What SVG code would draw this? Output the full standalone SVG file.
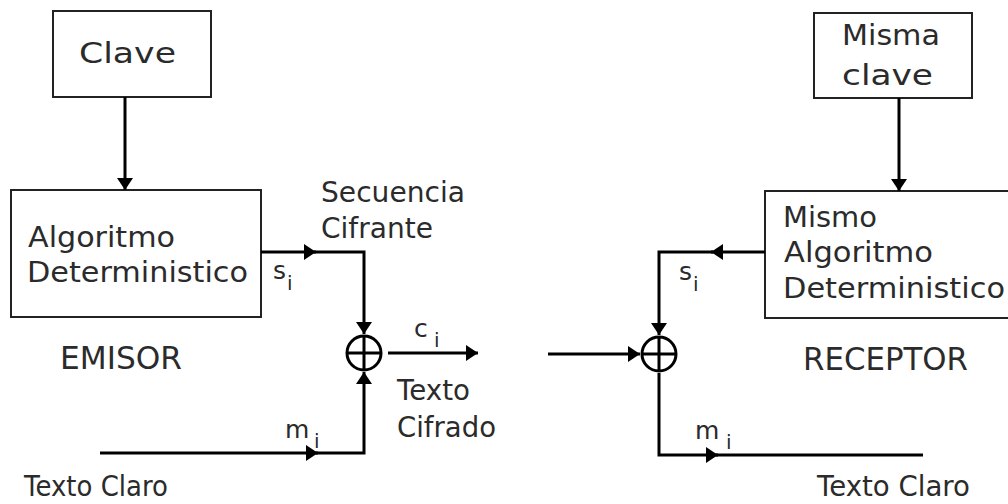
<svg xmlns="http://www.w3.org/2000/svg" width="1008" height="504" viewBox="0 0 1008 504">
<defs>
<style>
.box{fill:#fff;stroke:#222;stroke-width:2}
.t{font-family:"DejaVu Sans","Liberation Sans",sans-serif;fill:#2b2b2b;font-size:29px}
.big{font-size:32px}
.sm{font-size:25px}
.sub{font-size:20px}
.c{fill:none;stroke:#000;stroke-width:3;stroke-linejoin:miter}
.x{fill:#fff;stroke:#000;stroke-width:3}
</style>
<marker id="ah" markerUnits="userSpaceOnUse" markerWidth="12" markerHeight="16" viewBox="0 0 12 16" refX="12" refY="8" orient="auto">
<path d="M0,0 L12,8 L0,16 z" fill="#000"/>
</marker>
</defs>
<rect width="1008" height="504" fill="#fff"/>

<g id="clave">
<rect class="box" x="53" y="11" width="158" height="86"/>
<text class="t" x="79" y="63" textLength="97" lengthAdjust="spacingAndGlyphs">Clave</text>
</g>

<g id="algoritmo">
<rect class="box" x="11" y="190" width="250" height="127"/>
<text class="t" x="28" y="247" textLength="147" lengthAdjust="spacingAndGlyphs">Algoritmo</text>
<text class="t" x="27" y="282" textLength="221" lengthAdjust="spacingAndGlyphs">Deterministico</text>
</g>

<g id="misma-clave">
<rect class="box" x="814" y="13" width="158" height="85"/>
<text class="t" x="842" y="45" textLength="98" lengthAdjust="spacingAndGlyphs">Misma</text>
<text class="t" x="842" y="85" textLength="91" lengthAdjust="spacingAndGlyphs">clave</text>
</g>

<g id="mismo-algoritmo">
<rect class="box" x="765" y="191" width="260" height="127"/>
<text class="t" x="783" y="227" textLength="94" lengthAdjust="spacingAndGlyphs">Mismo</text>
<text class="t" x="784" y="262" textLength="149" lengthAdjust="spacingAndGlyphs">Algoritmo</text>
<text class="t" x="783" y="298" textLength="222" lengthAdjust="spacingAndGlyphs">Deterministico</text>
</g>

<g id="xor-emisor">
<circle class="x" cx="364" cy="353" r="17"/>
<path class="c" d="M364,336 V370 M347,353 H381"/>
</g>

<g id="xor-receptor">
<circle class="x" cx="659" cy="354" r="17"/>
<path class="c" d="M659,337 V371 M642,354 H676"/>
</g>

<g id="connectors">
<path class="c" d="M125,97 V190" marker-end="url(#ah)"/>
<path class="c" d="M261,252 H316" marker-end="url(#ah)"/>
<path class="c" d="M314,252 H364 V334" marker-end="url(#ah)"/>
<path class="c" d="M100,453 H318" marker-end="url(#ah)"/>
<path class="c" d="M316,453 H364 V372" marker-end="url(#ah)"/>
<path class="c" d="M388,353 H478" marker-end="url(#ah)"/>
<path class="c" d="M548,354 H640" marker-end="url(#ah)"/>
<path class="c" d="M899,98 V191" marker-end="url(#ah)"/>
<path class="c" d="M765,252 H711" marker-end="url(#ah)"/>
<path class="c" d="M713,252 H659 V335" marker-end="url(#ah)"/>
<path class="c" d="M659,373 V455 H718" marker-end="url(#ah)"/>
<path class="c" d="M716,455 H923"/>
</g>

<g id="labels">
<text class="t big" x="60" y="369" textLength="122" lengthAdjust="spacingAndGlyphs">EMISOR</text>
<text class="t big" x="803" y="370" textLength="165" lengthAdjust="spacingAndGlyphs">RECEPTOR</text>
<text class="t" x="321" y="202" font-size="27" textLength="144" lengthAdjust="spacingAndGlyphs">Secuencia</text>
<text class="t" x="321" y="238" font-size="27" textLength="112" lengthAdjust="spacingAndGlyphs">Cifrante</text>
<text class="t" x="397" y="400" font-size="27" textLength="73" lengthAdjust="spacingAndGlyphs">Texto</text>
<text class="t" x="397" y="437" font-size="27" textLength="99" lengthAdjust="spacingAndGlyphs">Cifrado</text>
<text class="t" x="24" y="496" font-size="26" textLength="144" lengthAdjust="spacingAndGlyphs">Texto Claro</text>
<text class="t" x="817" y="496" font-size="26" textLength="153" lengthAdjust="spacingAndGlyphs">Texto Claro</text>
<text class="t sm" x="273" y="279">s<tspan class="sub" x="287" y="290">i</tspan></text>
<text class="t sm" x="414" y="337">c<tspan class="sub" x="434" y="347">i</tspan></text>
<text class="t sm" x="285" y="438">m<tspan class="sub" x="314" y="448">i</tspan></text>
<text class="t sm" x="679" y="280">s<tspan class="sub" x="693" y="291">i</tspan></text>
<text class="t sm" x="695" y="439">m<tspan class="sub" x="726" y="449">i</tspan></text>
</g>
</svg>
